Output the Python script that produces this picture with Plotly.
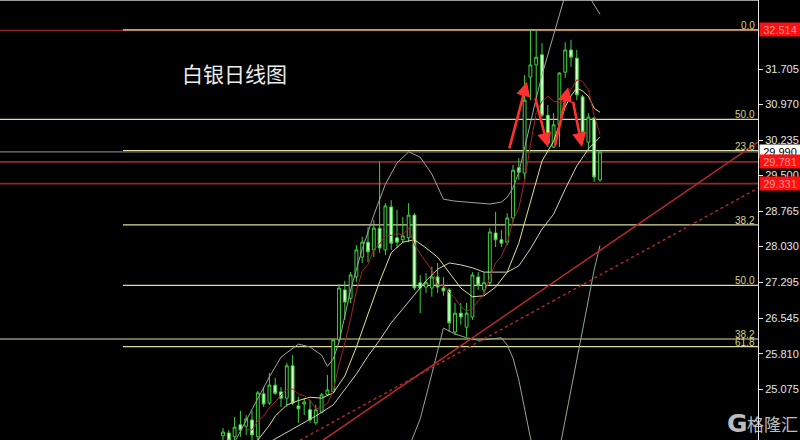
import plotly.graph_objects as go

# ---------------- data ----------------
idx = list(range(66))
open_ = [24.11,24.17,24.09,24.34,24.31,24.44,24.09,24.98,24.79,25.16,25.02,24.89,25.56,24.73,24.77,24.65,24.38,24.60,24.96,25.02,
         26.10,27.13,26.96,27.40,27.81,28.12,27.96,28.41,27.96,28.85,28.21,28.17,28.21,28.68,27.28,27.19,27.17,27.40,27.17,27.13,
         26.26,26.65,26.36,26.57,27.40,27.13,27.28,28.31,28.17,28.12,28.62,29.66,29.55,31.54,31.79,32.00,30.75,30.09,30.55,31.64,
         32.10,31.93,31.13,30.19,30.69,29.41]
high = [24.27,24.23,24.50,24.63,24.54,24.63,25.04,25.12,25.41,25.31,25.12,25.62,25.78,24.92,24.89,24.85,24.75,25.00,25.37,26.12,
        27.25,27.32,27.50,28.06,28.23,28.43,28.58,29.78,28.93,28.99,28.79,28.64,28.93,28.72,27.44,27.48,27.61,27.69,27.40,27.17,
        26.86,26.86,26.86,27.50,27.50,27.50,28.41,28.75,28.37,28.72,29.72,29.86,31.58,32.51,32.51,32.24,30.96,30.79,31.64,32.26,
        32.31,32.10,31.17,30.79,30.71,30.03]
low = [24.02,23.98,23.98,24.09,24.13,24.02,24.02,24.71,24.75,24.96,24.71,24.71,24.75,24.38,24.54,24.38,24.34,24.58,24.94,25.00,
       26.05,26.51,26.86,27.30,27.69,27.71,27.81,27.90,27.85,27.96,28.00,28.10,28.12,27.13,26.65,27.07,26.99,27.07,27.01,26.26,
       26.20,26.41,26.16,26.51,27.13,27.03,27.23,28.02,28.02,28.06,28.54,29.41,29.41,31.06,30.92,30.71,30.09,30.07,30.09,31.52,
       31.75,31.06,30.38,30.03,29.37,29.37]
close = [24.19,24.02,24.29,24.23,24.46,24.13,25.00,24.77,25.16,24.99,24.89,25.56,24.79,24.67,24.81,24.44,24.65,24.96,25.06,26.10,
         27.17,26.88,27.44,27.96,28.12,27.92,28.41,28.00,28.87,28.10,28.12,28.25,28.68,27.17,27.17,27.28,27.40,27.19,27.11,26.45,
         26.65,26.57,26.65,27.44,27.23,27.28,28.33,28.17,28.10,28.62,29.61,29.57,31.06,31.79,31.95,30.75,30.17,30.55,31.62,32.10,
         31.95,31.17,30.40,30.71,29.47,29.99]

ma5_x = list(range(4, 66))
ma5_y = [24.24,24.23,24.42,24.52,24.70,24.81,24.96,25.08,25.08,24.98,24.94,24.85,24.67,24.70,24.78,25.04,25.59,26.03,26.53,27.11,
         27.52,27.66,27.97,28.08,28.26,28.26,28.30,28.27,28.41,28.07,27.88,27.71,27.54,27.24,27.23,27.08,26.96,26.79,26.69,26.75,
         26.91,27.04,27.39,27.69,27.83,28.10,28.57,28.82,29.40,30.13,30.80,31.03,31.15,31.04,31.01,31.04,31.28,31.48,31.45,31.27,
         30.74,30.35]

ma10_x = [6,8,9,11,13,15,17,19,21,23,25,27,29,31,33,35,37,39,41,43,45,47,49,51,53,55,57,59,60,61,62,63,64,65]
ma10_y = [24.02,24.33,24.52,24.75,24.84,24.91,24.89,25.00,25.35,25.95,26.63,27.30,27.90,28.12,28.17,28.00,27.81,27.48,27.17,26.99,
          27.01,27.19,27.50,28.10,28.97,29.80,30.21,30.92,31.15,31.31,31.25,31.14,30.89,30.81]

mid_x = [8,13,16,19,21,23,25,27,29,31,33,35,37,39,41,43,45,47,49,51,53,55,57,59,61,63,65]
mid_y = [23.98,24.31,24.52,24.75,25.06,25.39,25.76,26.09,26.45,26.74,27.05,27.32,27.56,27.69,27.65,27.59,27.50,27.50,27.50,27.63,
         27.98,28.39,28.70,29.22,29.70,30.05,30.30]

up_x = [2,4,6,8,10,12,13,15,17,18,19,20,22,24,26,28,30,32,34,36,38,40,42,44,46,48,49,50,51,52,53,54,55,56,57,58,59,60,61,62,63,64,65]
up_y = [23.98,24.44,24.89,25.33,25.74,25.93,26.01,25.95,25.78,25.55,25.70,26.05,27.13,27.98,28.68,29.32,29.76,29.99,29.88,29.53,
        29.01,28.97,28.95,28.93,28.91,28.95,29.05,29.24,29.57,30.07,30.61,31.10,31.58,32.00,32.41,32.82,33.24,33.51,33.65,33.55,
        33.24,33.03,32.84]

lo_x = [32,34,36,38,40,42,44,46,48,49,50,51,52,53,54,55,56,57,58,59,60,61,62,63,64,65]
lo_y = [23.86,24.46,25.39,26.34,26.22,26.14,26.09,26.12,26.14,25.99,25.72,25.27,24.65,24.07,23.65,23.40,23.24,23.30,23.82,24.44,
        25.06,25.68,26.30,26.92,27.55,28.05]

trend_solid_x = [17.24, 92.24]
trend_solid_y = [24.02, 30.19]
trend_dot_x = [13.28, 92.24]
trend_dot_y = [24.02, 29.24]

arrow_tail_x = [49.3, 53.8, 57.2, 60.3]
arrow_tail_y = [30.03, 31.13, 30.09, 31.06]
arrow_head_x = [52.4, 56.0, 59.5, 61.9]
arrow_head_y = [31.44, 30.09, 31.33, 30.09]

fib_levels = [32.514, 30.664, 30.018, 28.476, 27.227, 26.115, 25.956]
fib_labels = ['0.0', '50.0', '23.6', '38.2', '50.0', '38.2', '61.8']
fib_full = [False, True, False, False, False, True, False]

red_levels = [29.781, 29.331]
red_left_level = 32.50
bid_level = 29.99

tick_vals = [25.075, 25.810, 26.545, 27.295, 28.030, 28.765, 29.500, 30.235, 30.970, 31.705]
price_tags = [('32.514', 32.514, 'red'), ('29.990', 29.990, 'white'), ('29.781', 29.781, 'red'), ('29.331', 29.331, 'red')]

title_text = '白银日线图'

# ---------------- figure ----------------
fig = go.Figure()

fig.add_trace(go.Candlestick(
    x=idx, open=open_, high=high, low=low, close=close,
    increasing=dict(line=dict(color='#3fd23f', width=1), fillcolor='#000000'),
    decreasing=dict(line=dict(color='#3fd23f', width=1), fillcolor='#d8ffd0'),
    whiskerwidth=0, hoverinfo='skip', showlegend=False))

def line(x, y, color, width=1, dash='solid'):
    fig.add_trace(go.Scatter(x=x, y=y, mode='lines', line=dict(color=color, width=width, dash=dash),
                             hoverinfo='skip', showlegend=False))

line(up_x, up_y, '#9aa89a')
line(lo_x, lo_y, '#8faa8f')
line(mid_x, mid_y, '#cfcfb8')
line(ma10_x, ma10_y, '#e2e08e')
line(ma5_x, ma5_y, '#a22424')
line(trend_solid_x, trend_solid_y, '#b82a2a', 1.5)
line(trend_dot_x, trend_dot_y, '#b82a2a', 1.4, 'dot')

shapes = []
LEFT = 123 / 758
shapes.append(dict(type='line', xref='paper', yref='y', x0=0, x1=1, y0=red_left_level, y1=red_left_level,
                   line=dict(color='#8e2a2a', width=1.5), layer='below'))
shapes.append(dict(type='line', xref='paper', yref='y', x0=0, x1=1, y0=bid_level, y1=bid_level,
                   line=dict(color='#7a7a7a', width=1.2), layer='below'))
for lv in red_levels:
    shapes.append(dict(type='line', xref='paper', yref='y', x0=0, x1=1, y0=lv, y1=lv,
                       line=dict(color='#8e2828', width=1.8), layer='below'))
for lv, full in zip(fib_levels, fib_full):
    shapes.append(dict(type='line', xref='paper', yref='y', x0=0 if full else LEFT, x1=1, y0=lv, y1=lv,
                       line=dict(color='#dcdc9c', width=1.2), layer='below'))
shapes.append(dict(type='line', xref='paper', yref='paper', x0=0, x1=1, y0=1, y1=1,
                   line=dict(color='#cfcfcf', width=1.5)))

annotations = []
for lv, lab in zip(fib_levels, fib_labels):
    annotations.append(dict(xref='paper', yref='y', x=1, y=lv, xanchor='right', yanchor='bottom',
                            xshift=-1, yshift=-3, text=lab, showarrow=False,
                            font=dict(color='#d6d68a', size=10, family='Liberation Sans')))

for txt, lv, kind in price_tags:
    annotations.append(dict(xref='paper', yref='y', x=1, y=lv, xanchor='left', yanchor='middle', xshift=1,
                            text=txt, showarrow=False, width=40, height=13, borderpad=0, align='center',
                            bgcolor='#ff1010' if kind == 'red' else '#ffffff',
                            font=dict(color='#ff9c9c' if kind == 'red' else '#000000', size=11,
                                      family='Liberation Sans')))

for tx, ty, hx, hy in zip(arrow_tail_x, arrow_tail_y, arrow_head_x, arrow_head_y):
    annotations.append(dict(x=hx, y=hy, ax=tx, ay=ty, xref='x', yref='y', axref='x', ayref='y',
                            text='', showarrow=True, arrowhead=2, arrowsize=1.1, arrowwidth=2.6,
                            arrowcolor='#ff3030'))

annotations.append(dict(xref='paper', yref='paper', x=180 / 758, y=1 - 73 / 440, xanchor='left', yanchor='middle',
                        text=title_text, showarrow=False,
                        font=dict(color='#ececec', size=21, family='Noto Sans CJK SC')))
annotations.append(dict(xref='paper', yref='paper', x=1.0, y=1 - 423 / 440, xanchor='left', yanchor='middle',
                        xshift=-33, text='<b>G</b>', showarrow=False,
                        font=dict(color='rgba(225,225,225,0.85)', size=25, family='DejaVu Sans')))
annotations.append(dict(xref='paper', yref='paper', x=1.0, y=1 - 423 / 440, xanchor='left', yanchor='middle',
                        xshift=-13, text='格隆汇', showarrow=False,
                        font=dict(color='rgba(225,225,225,0.85)', size=17, family='Noto Sans CJK SC')))

fig.update_layout(
    width=800, height=440,
    margin=dict(l=0, r=42, t=0, b=0),
    paper_bgcolor='#000000', plot_bgcolor='#000000',
    showlegend=False,
    shapes=shapes, annotations=annotations,
    xaxis=dict(range=[-38.45, 92.24], visible=False, rangeslider=dict(visible=False), fixedrange=True),
    yaxis=dict(range=[24.024, 33.134], side='right', tickvals=tick_vals,
               ticktext=['%.3f' % v for v in tick_vals],
               tickfont=dict(color='#e6e6e6', size=11, family='Liberation Sans'),
               ticks='outside', ticklen=4, tickcolor='#e6e6e6',
               showline=True, linecolor='#e6e6e6', linewidth=1,
               showgrid=False, zeroline=False, fixedrange=True, automargin=False),
    font=dict(family='Liberation Sans'),
)

fig.write_html('out.html', config={'displayModeBar': False},
               post_script="document.body.style.margin='0px';document.body.style.background='#000';")
